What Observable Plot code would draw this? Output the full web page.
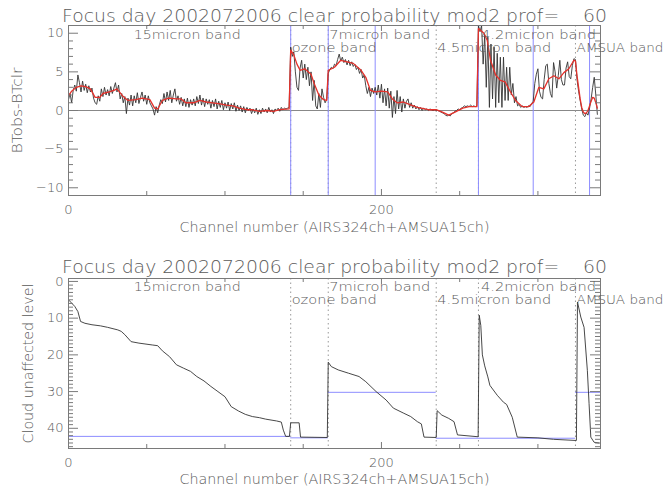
<!DOCTYPE html>
<html><head><meta charset="utf-8">
<script src="https://cdn.jsdelivr.net/npm/d3@7"></script>
<script src="https://cdn.jsdelivr.net/npm/@observablehq/plot@0.6"></script>
<style>
html,body{margin:0;padding:0;background:#fff;}
#chart{width:668px;height:495px;}
#chart svg{display:block;}
#chart svg text{font-weight:200;}
</style></head><body><div id="chart"></div>
<script>
// ---------- text ----------
const titleText = "Focus day 2002072006 clear probability mod2 prof=    60";
const xTitle = "Channel number (AIRS324ch+AMSUA15ch)";
const topYTitle = "BTobs-BTclr";
const bottomYTitle = "Cloud unaffected level";

// ---------- bands ----------
const bandLabels = ["15micron band","ozone band","7micron band","4.5micron band","4.2micron band","AMSUA band"];
const bandLabelCh = [41,142,166,235,263,324];
const bandLabelRow = [1,2,1,2,1,2];
const bandBounds = [142,166,235,262,324];
const blueChannels = [142,166,196,262,297,333];

// ---------- ticks ----------
const xMajorTicks = [0,200];
const xMinorTicks = [50,100,150,250,300];
const topYMajor = [-10,-5,0,5,10];
const topYMinor = [-9,-8,-7,-6,-4,-3,-2,-1,1,2,3,4,6,7,8,9];
const botYMajor = [0,10,20,30,40];
const botYMinor = [1,2,3,4,5,6,7,8,9,11,12,13,14,15,16,17,18,19,21,22,23,24,25,26,27,28,29,31,32,33,34,35,36,37,38,39,41,42,43,44,45];

// ---------- top panel: BTobs-BTclr per channel (0..338) ----------
const btObs = [
 1.4, 2.2, 1.0, 2.6, 3.3, 2.5, 4.6, 3.6, 2.4, 3.8,
 2.6, 3.4, 2.3, 3.2, 2.4, 2.9, 1.6, 1.0, 0.8, 1.9,
 1.2, 2.8, 1.8, 3.0, 2.0, 2.7, 1.9, 3.1, 2.2, 2.9,
 3.6, 2.4, 3.3, 1.5, 2.2, 1.0, 1.8, -0.4, 1.6, 0.7,
 2.0, 0.6, 1.9, 1.0, 2.3, 0.9, 1.7, 2.4, 1.2, 2.0,
 0.8, 1.9, 1.0, 0.6, 0.2, -0.6, 0.5, -0.3, 0.7, 1.4,
 0.9, 2.2, 1.1, 2.4, 1.3, 2.6, 1.0, 2.0, 2.8, 1.2,
 1.9, 0.8, 1.7, 0.6, 1.5, 0.5, 1.6, 0.4, 1.4, 0.7,
 1.5, 0.6, 1.8, 0.9, 2.0, 0.7, 1.6, 0.5, 1.5, 0.8,
 1.4, 0.3, 1.3, 0.5, 1.5, 0.2, 1.2, 0.4, 1.3, 0.1,
 1.0, 0.3, 1.1, 0.0, 0.9, 0.2, 1.0, -0.1, 0.7, 0.0,
 0.6, -0.2, 0.5, -0.3, 0.4, 0.0, 0.3, -0.4, 0.2, -0.3,
 0.3, -0.5, 0.1, -0.4, 0.3, -0.2, 0.2, -0.3, 0.4, -0.2,
 0.1, -0.4, 0.2, 0.0, 0.3, -0.1, 0.4, 0.1, 0.3, 0.2,
 0.3, 0.4, 8.2, 7.0, 7.6, 5.0, 3.0, 2.6, 5.5, 6.5,
 4.2, 6.0, 4.0, 5.6, 3.2, 5.0, 1.3, 3.9, 0.6, 0.2,
 2.2, 0.4, 2.8, 1.7, 1.0, 1.4, 4.8, 5.3, 5.6, 5.4,
 6.0, 5.8, 6.6, 7.3, 6.4, 6.9, 6.2, 6.6, 5.9, 6.5,
 5.8, 6.3, 5.7, 6.0, 5.3, 5.6, 4.8, 5.3, 4.2, 4.6,
 3.2, 2.2, 3.0, 1.8, 2.9, 2.2, 3.0, 2.0, 3.3, 1.6,
 3.4, 1.0, 2.8, 0.6, 2.9, 0.3, 2.5, -0.9, 1.8, -0.4,
 2.6, 0.2, 1.8, -0.2, 1.5, 0.3, 1.2, 1.5, 0.4, 1.0,
 0.3, 0.7, 0.2, 0.5, 0.1, 0.4, 0.0, 0.3, 0.1, 0.2,
 0.0, 0.2, 0.1, 0.0, 0.1, 0.0, 0.0, -0.1, -0.2, -0.3,
 -0.4, -0.6, -0.7, -0.6, -0.7, -0.4, -0.3, -0.1, 0.0, 0.2,
 0.1, 0.3, 0.4, 0.6, 0.5, 0.6, 0.5, 0.7, 0.5, 0.6,
 0.5, 0.6, 11.0, 10.2, 11.0, 6.0, 9.8, 3.0, 9.5, 0.4,
 8.6, 1.5, 8.2, 0.4, 7.4, 1.0, 6.9, 0.4, 6.9, 1.3,
 5.6, 1.3, 5.6, 2.0, 3.5, 1.0, 1.8, 0.6, 0.8, 0.4,
 0.6, 0.4, 0.5, 0.4, 0.6, 0.5, 0.9, 1.2, 3.5, 4.7,
 5.4, 2.5, 1.7, 1.5, 4.0, 5.8, 6.0, 3.5, 2.2, 1.7,
 6.2, 5.0, 2.9, 4.5, 6.5, 4.0, 3.3, 3.3, 5.5, 6.3,
 4.4, 4.1, 5.8, 6.7, 6.6, 4.0, 2.5, 1.3, 0.2, -0.6,
 -0.8, -0.3, -0.6, 0.3, 1.5, 3.0, 4.3, 2.0, -0.5
];

// smoothed (red) curve
const smoothCh = [0,2,5,8,11,14,17,20,22,26,29,31,35,38,43,47,52,55,57,60,64,69,72,75,80,84,88,92,96,101,105,109,114,117,122,127,131,135,141,
 142,144,146,148,151,155,157,160,163,165,
 166,170,174,178,182,187,190,193,196,200,204,207,210,214,219,223,230,235,
 239,243,247,252,256,261,
 262,265.5,267.6,269.7,273,276,279,282.5,285.7,290,294,297.4,300.6,303.8,307,310.2,313.4,316.6,319.8,323,
 324,325,326,327,328,329,330,331,332,333,334,335,336,337,338];
const smoothVal = [1.9,2.5,3.0,3.2,3.1,2.8,1.7,1.7,2.2,2.4,2.6,2.8,1.8,1.3,1.4,1.6,1.4,0.3,0.2,1.3,1.6,1.5,1.5,1.0,1.0,1.3,1.1,1.0,0.9,0.7,0.6,0.3,0.1,0.1,-0.1,0.0,-0.1,0.1,0.2,
 7.8,7.2,6.0,5.2,5.4,4.7,3.5,2.0,1.4,1.3,
 5.2,5.6,6.5,6.3,6.1,5.2,4.3,2.6,2.4,2.5,2.4,1.5,1.0,1.1,0.7,0.4,0.1,0.1,
 -0.2,-0.6,-0.2,0.3,0.5,0.5,
 10.6,10.0,9.1,6.5,4.6,3.9,3.7,2.4,1.3,0.5,0.5,1.1,3.0,2.8,4.1,4.5,4.1,4.9,5.4,6.5,
 6.4,4.5,3.0,1.5,0.4,-0.2,-0.4,-0.3,0.0,0.6,1.2,1.7,1.6,1.0,0.3];

// ---------- bottom panel: cloud unaffected level ----------
const cloudCh = [0,4,6,7.7,10.5,15,20.5,25,31.5,33.7,36,40,45,53.5,57,60,64.6,69,73.4,78,82,86.6,91,95.5,100,104,108.7,113,117.5,122,126,133,136,137.3,138.8,141.2,142,147.4,148.3,165.4,
 166,168,172.4,179,185.7,190,196.6,203,207.6,214.3,218.7,223,225.5,227.2,235,
 235.6,238.6,243,246.4,248.6,261.8,
 262.5,263.5,264.5,266,268,269.3,274,278,280,283.6,286.8,300,310,323.8,
 324.6,325.3,327.4,329.5,331.6,332.7,333.8,335.9,339];
const cloudLevel = [5.0,6.8,8.2,10.9,11.4,11.8,12.1,12.5,13.2,13.6,14.5,16.4,16.8,17.3,17.5,18.9,20.5,22.7,23.6,24.5,25.9,27.1,28.6,30.0,31.4,34.1,35.3,36.2,36.8,37.1,37.5,38.0,38.3,40.5,42.2,42.2,38.5,38.5,42.4,42.5,
 22.0,23.2,24.1,25.0,25.9,27.3,30.0,32.3,34.5,35.9,36.8,38.2,38.8,42.4,42.5,
 35.2,36.4,37.3,38.2,41.8,42.3,
 9.2,12.0,20.0,23.0,26.0,28.3,31.0,32.9,33.5,37.0,42.4,42.6,43.0,43.3,
 43.3,5.6,9.7,12.5,24.2,33.3,42.4,43.8,44.0];

// horizontal blue reference levels per band
const segStart = [0,142,166,235,324];
const segEnd = [142,166,235,324,340];
const segLevel = [42.2,42.6,30.2,42.7,30.2];

// ---------- layout ----------
const W = 668, ML = 68, MR = 68;
const FW = W - ML - MR;
const FH = 170;
const frameColor = "#7a7a7a";
const textColor = "#5a5a5a";
const fontFamily = "'DejaVu Sans', sans-serif";

function boxTicks(yMajor, yMinor) {
  const s = {stroke: frameColor, strokeWidth: 1};
  return [
    Plot.tickY(yMajor, {y: d => d, insetRight: FW - 10, ...s}),
    Plot.tickY(yMajor, {y: d => d, insetLeft: FW - 10, ...s}),
    Plot.tickY(yMinor, {y: d => d, insetRight: FW - 5, ...s}),
    Plot.tickY(yMinor, {y: d => d, insetLeft: FW - 5, ...s}),
    Plot.tickX(xMajorTicks, {x: d => d, insetTop: FH - 6, ...s}),
    Plot.tickX(xMajorTicks, {x: d => d, insetBottom: FH - 6, ...s}),
    Plot.tickX(xMinorTicks, {x: d => d, insetTop: FH - 4, ...s}),
    Plot.tickX(xMinorTicks, {x: d => d, insetBottom: FH - 4, ...s})
  ];
}

function labelMarks(row1dy, row2dy) {
  const idx = bandLabels.map((_, i) => i);
  const common = {x: i => bandLabelCh[i], text: i => bandLabels[i], frameAnchor: "top",
    textAnchor: "start", lineAnchor: "bottom", fontSize: 12, dx: 1, fill: textColor};
  return [
    Plot.text(idx.filter(i => bandLabelRow[i] === 1), {...common, dy: row1dy}),
    Plot.text(idx.filter(i => bandLabelRow[i] === 2), {...common, dy: row2dy})
  ];
}

function titleMarks(titleDy, xTitleDy, yTitle, yTitleDx) {
  return [
    Plot.text([titleText], {frameAnchor: "top", text: d => d, textAnchor: "middle", lineAnchor: "bottom", dy: titleDy, fontSize: 18, fill: textColor}),
    Plot.text([xTitle], {frameAnchor: "bottom", text: d => d, textAnchor: "middle", lineAnchor: "bottom", dy: xTitleDy, fontSize: 14, fill: textColor}),
    Plot.text([yTitle], {frameAnchor: "left", text: d => d, rotate: -90, dx: yTitleDx, textAnchor: "middle", lineAnchor: "middle", fontSize: 14, fill: textColor})
  ];
}

const style = {fontFamily, fontSize: "13px", color: textColor, background: "white", overflow: "visible"};

const topPlot = Plot.plot({
  width: W, height: 248,
  marginLeft: ML, marginRight: MR, marginTop: 25, marginBottom: 53,
  style,
  x: {domain: [0, 340]},
  y: {domain: [-11, 11]},
  marks: [
    Plot.ruleY([0], {stroke: "#888"}),
    Plot.ruleX(bandBounds, {x: d => d, stroke: "#999", strokeDasharray: "1.5,3"}),
    Plot.ruleX(blueChannels, {x: d => d, stroke: "#8d8dff"}),
    Plot.line(btObs, {x: (d, i) => i, y: d => d, stroke: "#333", strokeWidth: 0.9, clip: true}),
    Plot.line(smoothCh, {x: d => d, y: (d, i) => smoothVal[i], stroke: "#e4312b", strokeWidth: 1.3, clip: true}),
    Plot.frame({stroke: frameColor}),
    ...boxTicks(topYMajor, topYMinor),
    Plot.axisX({ticks: xMajorTicks, tickSize: 0, tickPadding: 9, label: null, fontSize: 13}),
    Plot.axisY({ticks: topYMajor, tickSize: 0, tickPadding: 5, label: null, fontSize: 13}),
    ...labelMarks(13, 26),
    ...titleMarks(-4, 36, topYTitle, -51)
  ]
});

const botPlot = Plot.plot({
  width: W, height: 247,
  marginLeft: ML, marginRight: MR, marginTop: 30, marginBottom: 47,
  style,
  x: {domain: [0, 340]},
  y: {domain: [45.5, -0.8]},
  marks: [
    Plot.ruleX(bandBounds, {x: d => d, stroke: "#999", strokeDasharray: "1.5,3"}),
    Plot.ruleY(segLevel.map((_, i) => i), {y: i => segLevel[i], x1: i => segStart[i], x2: i => segEnd[i], stroke: "#8d8dff"}),
    Plot.line(cloudCh, {x: d => d, y: (d, i) => cloudLevel[i], stroke: "#333", strokeWidth: 0.9, clip: true}),
    Plot.frame({stroke: frameColor}),
    ...boxTicks(botYMajor, botYMinor),
    Plot.axisX({ticks: xMajorTicks, tickSize: 0, tickPadding: 9, label: null, fontSize: 13}),
    Plot.axisY({ticks: botYMajor, tickSize: 0, tickPadding: 5, label: null, fontSize: 13}),
    ...labelMarks(12, 25),
    ...titleMarks(-6, 35, bottomYTitle, -40)
  ]
});

const widths = {};
widths[titleText] = 545;
widths[xTitle] = 310;
widths[topYTitle] = 86;
widths[bottomYTitle] = 160;
widths["15micron band"] = 107;
widths["ozone band"] = 85;
widths["7micron band"] = 101;
widths["4.5micron band"] = 114;
widths["4.2micron band"] = 115;
widths["AMSUA band"] = 87;

function fitText(svg) {
  svg.querySelectorAll("text").forEach(t => {
    const s = t.textContent;
    if (widths[s] !== undefined) {
      t.setAttribute("textLength", widths[s]);
      t.setAttribute("lengthAdjust", "spacingAndGlyphs");
      t.style.whiteSpace = "pre";
    }
  });
}
fitText(topPlot);
fitText(botPlot);

const el = document.getElementById("chart");
el.append(topPlot, botPlot);
</script>
</body></html>
